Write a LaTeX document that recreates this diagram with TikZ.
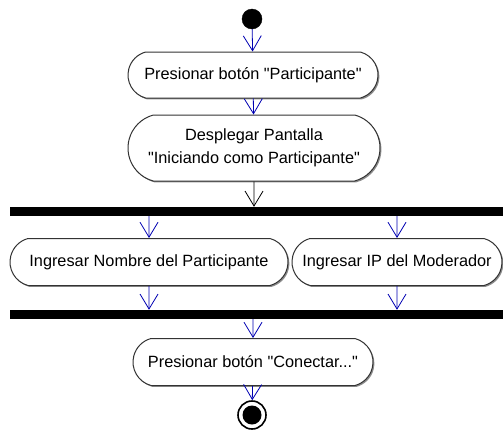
\documentclass[tikz,border=0pt]{standalone}
\usepackage{fontspec}
\setmainfont{Liberation Sans}[Ligatures=TeXOff]
\usetikzlibrary{shapes.misc,shadows,arrows.meta}
\begin{document}
\begin{tikzpicture}[x=1pt,y=-1pt,
  activity/.style={rounded rectangle, rounded rectangle arc length=150,
    draw=black!80, line width=1pt, fill=white, inner sep=0pt,
    align=center, font=\fontsize{16.3}{23}\selectfont,
    drop shadow={shadow xshift=1.4pt, shadow yshift=-1.4pt, fill=black!45, opacity=1}},
  syncbar/.style={rectangle, fill=black, draw=none, inner sep=0pt,
    minimum width=493pt, minimum height=9pt},
  flow/.style={draw=blue!70!black, line width=0.8pt,
    -{Straight Barb[length=15pt,width=18pt]}},
  darkflow/.style={flow, draw=black}
]
\useasboundingbox (0,0) rectangle (503,437);

% start state
\node[circle, fill=black, draw=black, minimum size=20pt, inner sep=0pt] (start) at (252,19) {};

% actions
\node[activity, minimum width=250pt, minimum height=46pt] (a1) at (253,75)
  {Presionar botón "Participante"};
\node[activity, minimum width=252pt, minimum height=66pt] (a2) at (254,148)
  {Desplegar Pantalla\\"Iniciando como Participante"};

% fork
\node[syncbar] (fork) at (256.5,211.5) {};

\node[activity, minimum width=278pt, minimum height=47pt] (a3) at (149,262)
  {Ingresar Nombre del Participante};
\node[activity, minimum width=210pt, minimum height=47pt] (a4) at (397,262)
  {Ingresar IP del Moderador};

% join
\node[syncbar] (join) at (256.5,314.5) {};

\node[activity, minimum width=240pt, minimum height=47pt] (a5) at (253,362)
  {Presionar botón "Conectar..."};

% final state
\node[circle, draw=black, line width=1.6pt, fill=white, minimum size=28pt, inner sep=0pt] (final) at (252,415) {};
\fill[black] (final.center) circle (9.5pt);

% transitions
\draw[flow] (start) -- (a1);
\draw[flow] (a1) -- (a2);
\draw[darkflow] (a2) -- (a2 |- fork.north);
\draw[flow] (fork.south -| a3) -- (a3);
\draw[flow] (fork.south -| a4) -- (a4);
\draw[flow] (a3) -- (a3 |- join.north);
\draw[flow] (a4) -- (a4 |- join.north);
\draw[flow] (join.south -| a5) -- (a5);
\draw[flow] (a5) -- (final);
\end{tikzpicture}
\end{document}
